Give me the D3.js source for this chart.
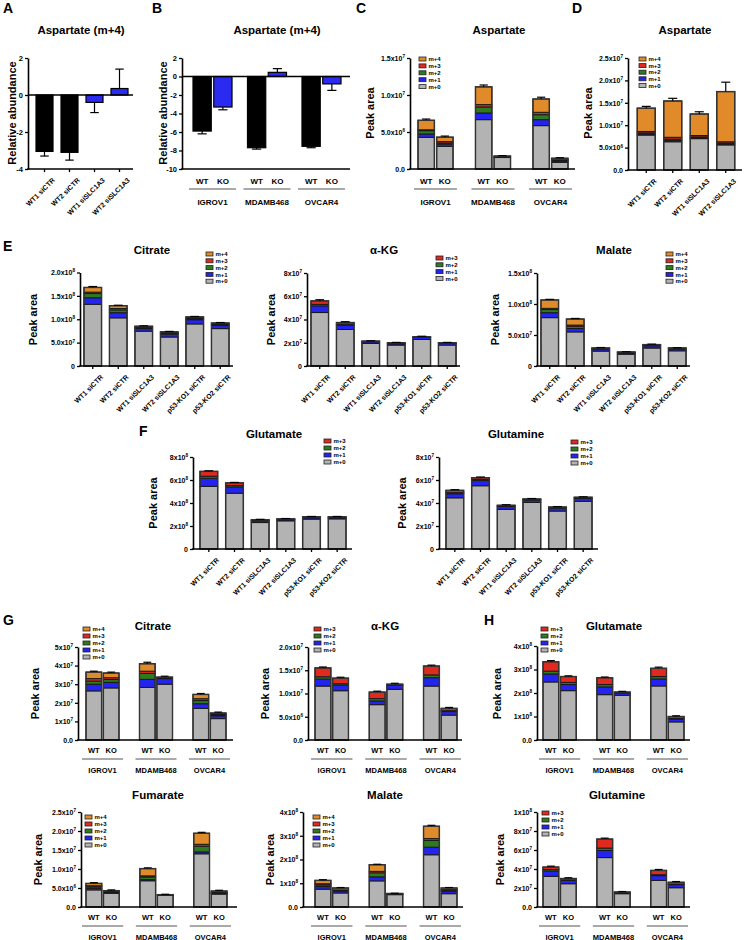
<!DOCTYPE html>
<html><head><meta charset="utf-8">
<script src="https://cdn.jsdelivr.net/npm/d3@7/dist/d3.min.js"></script>
<style>
html,body{margin:0;padding:0;background:#fff;}
text{font-family:"Liberation Sans",Arial,Helvetica,sans-serif;font-weight:bold;fill:#000;}
</style></head>
<body><svg id="fig" width="748" height="940" xmlns="http://www.w3.org/2000/svg"></svg>
<script>
// ================= DATA =================
const conds4 = ["WT1 siCTR","WT2 siCTR","WT1 siSLC1A3","WT2 siSLC1A3"];
const conds6 = ["WT1 siCTR","WT2 siCTR","WT1 siSLC1A3","WT2 siSLC1A3","p53-KO1 siCTR","p53-KO2 siCTR"];
const cellLines = ["IGROV1","MDAMB468","OVCAR4"];
const genotypes = ["WT","KO"];
const iso5 = ["m+0","m+1","m+2","m+3","m+4"];
const iso4 = ["m+0","m+1","m+2","m+3"];

// A  Aspartate (m+4), relative abundance
const aspA_mean = [-3.05,-3.1,-0.4,0.35];
const aspA_err = [0.25,0.42,0.55,1.05];
const aspA_ticks = [-4,-2,0,2];
// B  (IGROV1 WT, KO, MDAMB468 WT, KO, OVCAR4 WT, KO)
const aspB_mean = [-5.9,-3.3,-7.7,0.45,-7.55,-0.8];
const aspB_err = [0.3,0.3,0.15,0.4,0.15,0.7];
const aspB_ticks = [-10,-8,-6,-4,-2,0,2];

// C Aspartate peak area (x10^6), isotopologues m+0..m+4
const aspC_e6 = [[4.28,0.45,0.45,0.12,1.28],[3.06,0.30,0.14,0.20,0.60],[6.67,0.90,0.81,0.32,2.40],
                 [1.55,0.05,0.04,0.04,0.07],[5.86,0.81,0.67,0.32,1.80],[0.90,0.15,0.10,0.10,0.20]];
const aspC_err = [0.17,0.15,0.25,0.06,0.24,0.08];
const aspC_ticks = [0,5,10,15];
const aspC_tickLabels = ["0.0","5.0x10^6","1.0x10^7","1.5x10^7"];

// D Aspartate peak area (x10^6)
const aspD_e6 = [[7.8,0.25,0.25,0.3,5.2],[6.3,0.3,0.3,0.4,8.1],[7.0,0.2,0.2,0.3,4.8],[5.6,0.2,0.2,0.3,11.2]];
const aspD_err = [0.4,0.6,0.5,2.1];
const aspD_ticks = [0,5,10,15,20,25];
const aspD_tickLabels = ["0.0","5.0x10^6","1.0x10^7","1.5x10^7","2.0x10^7","2.5x10^7"];

// E Citrate (x10^8)
const eCit_e8 = [[1.32,0.14,0.09,0.03,0.10],[1.03,0.11,0.06,0.03,0.06],[0.745,0.055,0.02,0.01,0.02],
                 [0.62,0.06,0.02,0.01,0.02],[0.90,0.09,0.02,0.02,0.02],[0.80,0.065,0.015,0.02,0.02]];
const eCit_err = [0.02,0.01,0.01,0.01,0.01,0.01];
const eCit_ticks = [0,0.5,1,1.5,2];
const eCit_tickLabels = ["0","5.0x10^7","1.0x10^8","1.5x10^8","2.0x10^8"];
// E alpha-KG (x10^7)
const eAkg_e7 = [[4.6,0.57,0.13,0.3],[3.14,0.36,0.1,0.14],[1.94,0.14,0.03,0.03],
                 [1.8,0.11,0.04,0.05],[2.28,0.17,0.03,0.04],[1.8,0.14,0.03,0.03]];
const eAkg_err = [0.1,0.07,0.03,0.03,0.04,0.03];
const eAkg_ticks = [0,2,4,6,8];
const eAkg_tickLabels = ["0","2x10^7","4x10^7","6x10^7","8x10^7"];
// E Malate (x10^8)
const eMal_e8 = [[0.78,0.08,0.05,0.02,0.135],[0.55,0.055,0.035,0.02,0.097],[0.24,0.03,0.01,0.005,0.005],
                 [0.19,0.02,0.008,0.004,0.003],[0.29,0.035,0.01,0.005,0.005],[0.245,0.03,0.008,0.004,0.003]];
const eMal_err = [0.01,0.01,0.008,0.005,0.008,0.005];
const eMal_ticks = [0,0.5,1,1.5];
const eMal_tickLabels = ["0","5.0x10^7","1.0x10^8","1.5x10^8"];

// F Glutamate (x10^8)
const fGlu_e8 = [[5.45,0.7,0.18,0.42],[4.85,0.55,0.12,0.23],[2.3,0.15,0.04,0.06],
                 [2.45,0.1,0.03,0.04],[2.6,0.12,0.03,0.05],[2.62,0.1,0.03,0.05]];
const fGlu_err = [0.05,0.04,0.03,0.03,0.03,0.03];
const fGlu_ticks = [0,2,4,6,8];
const fGlu_tickLabels = ["0","2x10^8","4x10^8","6x10^8","8x10^8"];
// F Glutamine (x10^7)
const fGln_e7 = [[4.45,0.35,0.1,0.2],[5.5,0.45,0.1,0.15],[3.45,0.25,0.05,0.05],
                 [4.05,0.2,0.05,0.05],[3.3,0.25,0.05,0.05],[4.15,0.25,0.05,0.05]];
const fGln_err = [0.06,0.06,0.05,0.04,0.04,0.04];
const fGln_ticks = [0,2,4,6,8];
const fGln_tickLabels = ["0","2x10^7","4x10^7","6x10^7","8x10^7"];

// G Citrate (x10^7)
const gCit_e7 = [[2.64,0.36,0.17,0.13,0.35],[2.8,0.3,0.15,0.1,0.25],[2.83,0.43,0.32,0.12,0.4],
                 [3.0,0.3,0.03,0.03,0.02],[1.7,0.25,0.17,0.1,0.23],[1.15,0.15,0.05,0.05,0.05]];
const gCit_err = [0.05,0.05,0.08,0.05,0.05,0.05];
const gCit_ticks = [0,1,2,3,4,5];
const gCit_tickLabels = ["0.0","1x10^7","2x10^7","3x10^7","4x10^7","5x10^7"];
// G alpha-KG (x10^7)
const gAkg_e7 = [[1.16,0.15,0.05,0.19],[1.06,0.12,0.03,0.12],[0.76,0.08,0.05,0.14],
                 [1.09,0.09,0.01,0.01],[1.16,0.18,0.06,0.19],[0.535,0.075,0.02,0.05]];
const gAkg_err = [0.02,0.02,0.02,0.02,0.02,0.02];
const gAkg_ticks = [0,0.5,1,1.5,2];
const gAkg_tickLabels = ["0.0","5.0x10^6","1.0x10^7","1.5x10^7","2.0x10^7"];
// G Fumarate (x10^6)
const gFum_e6 = [[4.5,0.4,0.4,0.3,0.6],[3.6,0.2,0.15,0.1,0.25],[6.9,0.3,0.7,0.3,1.9],
                 [3.1,0.05,0.03,0.02,0.05],[14.0,0.5,1.5,0.5,2.9],[3.4,0.15,0.15,0.15,0.35]];
const gFum_err = [0.2,0.2,0.2,0.1,0.25,0.2];
const gFum_ticks = [0,5,10,15,20,25];
const gFum_tickLabels = ["0.0","5.0x10^6","1.0x10^7","1.5x10^7","2.0x10^7","2.5x10^7"];
// G Malate (x10^8)
const gMal_e8 = [[0.75,0.11,0.07,0.05,0.14],[0.59,0.07,0.04,0.02,0.08],[1.1,0.17,0.17,0.06,0.28],
                 [0.52,0.02,0.01,0.01,0.01],[2.2,0.32,0.28,0.08,0.52],[0.56,0.09,0.05,0.03,0.07]];
const gMal_err = [0.03,0.02,0.02,0.01,0.04,0.02];
const gMal_ticks = [0,1,2,3,4];
const gMal_tickLabels = ["0.0","1x10^8","2x10^8","3x10^8","4x10^8"];

// H Glutamate (x10^8)
const hGlu_e8 = [[2.47,0.34,0.12,0.4],[2.1,0.26,0.09,0.25],[1.93,0.33,0.1,0.29],
                 [1.9,0.1,0.02,0.02],[2.3,0.3,0.1,0.35],[0.77,0.11,0.04,0.08]];
const hGlu_err = [0.05,0.03,0.03,0.03,0.05,0.03];
const hGlu_ticks = [0,1,2,3,4];
const hGlu_tickLabels = ["0.0","1x10^8","2x10^8","3x10^8","4x10^8"];
// H Glutamine (x10^7)
const hGln_e7 = [[3.23,0.57,0.15,0.25],[2.45,0.35,0.05,0.15],[5.2,0.75,0.25,0.95],
                 [1.4,0.1,0.03,0.05],[2.8,0.5,0.1,0.45],[2.03,0.32,0.05,0.2]];
const hGln_err = [0.1,0.08,0.1,0.05,0.1,0.08];
const hGln_ticks = [0,2,4,6,8,10];
const hGln_tickLabels = ["0.0","2x10^7","4x10^7","6x10^7","8x10^7","1x10^8"];

// ================= STYLE =================
const ISO_COL = {"m+0":"#b3b3b3","m+1":"#2424f2","m+2":"#2e7a1e","m+3":"#e0291f","m+4":"#e08a2a"};
const BLUE = "#2a2af0";
const svg = d3.select("#fig");

function supify(t, s, fs){
  t.text(null);
  const p = String(s).split("^");
  t.append("tspan").text(p[0]);
  if (p.length > 1) t.append("tspan").attr("font-size", fs*0.66).attr("dy", -fs*0.4).text(p[1]);
}
function txt(g, x, y, s, fs, anchor){
  const t = g.append("text").attr("x", x).attr("y", y).attr("font-size", fs).attr("text-anchor", anchor || "middle");
  supify(t, s, fs);
  return t;
}
function ylab(g, s, x, yc){
  g.append("text").attr("transform", `translate(${x+4},${yc}) rotate(-90)`)
   .attr("text-anchor","middle").attr("font-size",11).text(s);
}
function letter(L, x, y){ svg.append("text").attr("x",x).attr("y",y).attr("font-size",14).text(L); }

function slots(cfg){
  if (cfg.grouped){
    const xo = d3.scaleBand().domain(cellLines).range(cfg.xr).paddingInner(cfg.pOut).paddingOuter(0);
    const xi = d3.scaleBand().domain(genotypes).range([0, xo.bandwidth()]).paddingInner(cfg.pIn).paddingOuter(0);
    const out = [];
    cellLines.forEach(c => genotypes.forEach(gn => out.push({x: xo(c)+xi(gn), w: xi.bandwidth(), cat: c, gen: gn, gx: xo(c), gw: xo.bandwidth()})));
    return out;
  }
  const xb = d3.scaleBand().domain(cfg.cats).range(cfg.xr).paddingInner(cfg.pad).paddingOuter(cfg.pad/2);
  const out = cfg.cats.map(c => ({x: xb(c), w: xb.bandwidth(), cat: c}));
  out.xb = xb;
  return out;
}

function yAxis(g, y, cfg){
  const fs = cfg.tfs || 7;
  const ax = d3.axisLeft(y).tickValues(cfg.ticks).tickSize(3).tickSizeOuter(0).tickPadding(2)
      .tickFormat((d,i) => cfg.tickLabels[i]);
  const ga = g.append("g").attr("transform", `translate(${cfg.ax},0)`).call(ax);
  ga.attr("font-family", null).attr("font-size", null);
  ga.select(".domain").attr("stroke","#000").attr("stroke-width",1.6);
  ga.selectAll(".tick line").attr("stroke","#000").attr("stroke-width",1.3);
  ga.selectAll(".tick text").attr("font-size", fs).each(function(d,i){ supify(d3.select(this), cfg.tickLabels[i], fs); });
}

function xDecor(g, cfg, bars){
  g.append("line").attr("x1",cfg.ax-0.8).attr("x2",cfg.axEnd).attr("y1",cfg.yBot).attr("y2",cfg.yBot)
   .attr("stroke","#000").attr("stroke-width",1.6);
  if (cfg.grouped){
    const L = cfg.gl;
    bars.forEach(b => txt(g, b.x + b.w/2, cfg.yBot + L[0], b.gen, L[3]));
    cellLines.forEach(c => {
      const b = bars.find(d => d.cat === c);
      g.append("line").attr("x1", b.gx-4).attr("x2", b.gx+b.gw+4)
       .attr("y1", cfg.yBot+L[1]).attr("y2", cfg.yBot+L[1]).attr("stroke","#555").attr("stroke-width",1.1);
      txt(g, b.gx + b.gw/2, cfg.yBot + L[2], c, L[3]);
    });
  } else {
    const ga = g.append("g").attr("transform", `translate(0,${cfg.yBot})`)
      .call(d3.axisBottom(bars.xb).tickSize(3).tickSizeOuter(0));
    ga.attr("font-family", null).attr("font-size", null);
    ga.select(".domain").remove();
    ga.selectAll(".tick line").attr("stroke","#000").attr("stroke-width",1.3);
    ga.selectAll(".tick text").attr("y",0).attr("dy","0.35em").attr("text-anchor","end")
      .attr("font-size",7).attr("transform","translate(9,10) rotate(-45)");
  }
}

function decorate(g, cfg){
  if (cfg.letter) letter(cfg.letter[0], cfg.letter[1], cfg.letter[2]);
  txt(g, cfg.title[1], cfg.title[2], cfg.title[0], 11.5);
  ylab(g, cfg.ylab[0], cfg.ylab[1], cfg.ylab[2]);
}

function simpleBars(cfg){
  const g = svg.append("g");
  const y = d3.scaleLinear().domain(cfg.ydom).range([cfg.yBot, cfg.yTop]);
  const bars = slots(cfg);
  g.selectAll(null).data(cfg.means).join("rect")
    .attr("x", (d,i) => bars[i].x).attr("width", (d,i) => bars[i].w)
    .attr("y", d => Math.min(y(0), y(d))).attr("height", d => Math.abs(y(d) - y(0)))
    .attr("fill", (d,i) => cfg.colorOf(bars[i])).attr("stroke","#000").attr("stroke-width",1.2);
  cfg.means.forEach((m,i) => {
    const b = bars[i], cx = b.x + b.w/2, e = m + Math.sign(m)*cfg.errs[i];
    g.append("line").attr("x1",cx).attr("x2",cx).attr("y1",y(m)).attr("y2",y(e)).attr("stroke","#000").attr("stroke-width",1.2);
    g.append("line").attr("x1",cx-b.w*0.25).attr("x2",cx+b.w*0.25).attr("y1",y(e)).attr("y2",y(e)).attr("stroke","#000").attr("stroke-width",1.2);
  });
  g.append("line").attr("x1",cfg.ax).attr("x2",cfg.axEnd).attr("y1",y(0)).attr("y2",y(0)).attr("stroke","#000").attr("stroke-width",1.6);
  yAxis(g, y, cfg);
  xDecor(g, cfg, bars);
  decorate(g, cfg);
}

function stacked(cfg){
  const g = svg.append("g");
  const y = d3.scaleLinear().domain([0, cfg.ymax]).range([cfg.yBot, cfg.yTop]);
  const bars = slots(cfg);
  const keys = cfg.keys;
  const table = cfg.rows.map((r,i) => { const o = {i}; keys.forEach((k,j) => o[k] = r[j]); return o; });
  const series = d3.stack().keys(keys)(table);
  series.forEach(s => {
    g.selectAll(null).data(s).join("rect")
      .attr("x", (d,i) => bars[i].x).attr("width", (d,i) => bars[i].w)
      .attr("y", d => y(d[1])).attr("height", d => Math.max(0, y(d[0]) - y(d[1])))
      .attr("fill", ISO_COL[s.key]).attr("stroke","#1a1a1a").attr("stroke-width",1);
  });
  const top = series[series.length-1];
  top.forEach((d,i) => {
    const b = bars[i], cx = b.x + b.w/2, e = d[1] + cfg.err[i];
    g.append("rect").attr("x",b.x).attr("width",b.w).attr("y",y(d[1])).attr("height",y(0)-y(d[1]))
      .attr("fill","none").attr("stroke","#333").attr("stroke-width",1.4);
    g.append("line").attr("x1",cx).attr("x2",cx).attr("y1",y(d[1])).attr("y2",y(e)).attr("stroke","#000").attr("stroke-width",1.2);
    g.append("line").attr("x1",cx-b.w*0.25).attr("x2",cx+b.w*0.25).attr("y1",y(e)).attr("y2",y(e)).attr("stroke","#000").attr("stroke-width",1.2);
  });
  // legend
  const lk = keys.slice().reverse();
  lk.forEach((k,i) => {
    const yy = cfg.leg[1] + i*cfg.leg[2];
    g.append("rect").attr("x",cfg.leg[0]).attr("y",yy-2).attr("width",7).attr("height",4)
      .attr("fill",ISO_COL[k]).attr("stroke","#222").attr("stroke-width",0.8);
    txt(g, cfg.leg[0]+9.5, yy+2.2, k, 6, "start");
  });
  yAxis(g, y, cfg);
  xDecor(g, cfg, bars);
  decorate(g, cfg);
}

// ================= PANELS =================
simpleBars({letter:["A",3,13], title:["Aspartate (m+4)",81,34], ylab:["Relative abundance",12,113],
  ax:28, axEnd:133, yBot:169, yTop:58, ydom:[-4,2], ticks:aspA_ticks, tickLabels:aspA_ticks.map(String), tfs:7.5,
  cats:conds4, xr:[32,132], pad:0.32, means:aspA_mean, errs:aspA_err,
  colorOf:b => b.cat.includes("SLC1A3") ? BLUE : "#000"});

simpleBars({letter:["B",152,13], title:["Aspartate (m+4)",277,34], ylab:["Relative abundance",163,113],
  ax:182, axEnd:350, yBot:169, yTop:58, ydom:[-10,2], ticks:aspB_ticks, tickLabels:aspB_ticks.map(String), tfs:7.5,
  grouped:true, xr:[193,341], pOut:0.284, pIn:0.12, gl:[15,20,36,8], means:aspB_mean, errs:aspB_err,
  colorOf:b => b.gen === "KO" ? BLUE : "#000"});

stacked({letter:["C",356,13], title:["Aspartate",499,34], ylab:["Peak area",370,113],
  ax:410, axEnd:575, yBot:169, yTop:58, ymax:15, ticks:aspC_ticks, tickLabels:aspC_tickLabels,
  grouped:true, xr:[418,568], pOut:0.39, pIn:0.12, gl:[15,20,36,8],
  keys:iso5, rows:aspC_e6, err:aspC_err, leg:[419,59,6.9]});

stacked({letter:["D",572,13], title:["Aspartate",685,34], ylab:["Peak area",588,113],
  ax:628, axEnd:742, yBot:170, yTop:58, ymax:25, ticks:aspD_ticks, tickLabels:aspD_tickLabels,
  cats:conds4, xr:[633,739], pad:0.32,
  keys:iso5, rows:aspD_e6, err:aspD_err, leg:[639,59,6.6]});

stacked({letter:["E",3,251], title:["Citrate",152,254], ylab:["Peak area",33,319.5],
  ax:80, axEnd:233, yBot:366, yTop:272.5, ymax:2, ticks:eCit_ticks, tickLabels:eCit_tickLabels,
  cats:conds6, xr:[80,233], pad:0.31,
  keys:iso5, rows:eCit_e8, err:eCit_err, leg:[206,254,6.8]});

stacked({title:["\u03b1-KG",384,254], ylab:["Peak area",271,319.5],
  ax:307, axEnd:460, yBot:366, yTop:273, ymax:8, ticks:eAkg_ticks, tickLabels:eAkg_tickLabels,
  cats:conds6, xr:[307,460], pad:0.31,
  keys:iso4, rows:eAkg_e7, err:eAkg_err, leg:[436,258,6.8]});

stacked({title:["Malate",614,254], ylab:["Peak area",495,319.5],
  ax:537, axEnd:690, yBot:366, yTop:273, ymax:1.5, ticks:eMal_ticks, tickLabels:eMal_tickLabels,
  cats:conds6, xr:[537,690], pad:0.31,
  keys:iso5, rows:eMal_e8, err:eMal_err, leg:[666,254,6.8]});

stacked({letter:["F",139,436], title:["Glutamate",274,438], ylab:["Peak area",153,503],
  ax:193, axEnd:352, yBot:549, yTop:457, ymax:8, ticks:fGlu_ticks, tickLabels:fGlu_tickLabels,
  cats:conds6, xr:[196,350], pad:0.31,
  keys:iso4, rows:fGlu_e8, err:fGlu_err, leg:[324,441,7]});

stacked({title:["Glutamine",516,438], ylab:["Peak area",402,503],
  ax:439, axEnd:598, yBot:549, yTop:457, ymax:8, ticks:fGln_ticks, tickLabels:fGln_tickLabels,
  cats:conds6, xr:[442,596], pad:0.31,
  keys:iso4, rows:fGln_e7, err:fGln_err, leg:[571,442,7]});

stacked({letter:["G",3,625], title:["Citrate",153,630], ylab:["Peak area",35,693.5],
  ax:78, axEnd:233, yBot:740, yTop:647, ymax:5, ticks:gCit_ticks, tickLabels:gCit_tickLabels,
  grouped:true, xr:[86,226], pOut:0.383, pIn:0.1, gl:[12.5,19,32.5,7.5],
  keys:iso5, rows:gCit_e7, err:gCit_err, leg:[83,629,7]});

stacked({title:["\u03b1-KG",385,630], ylab:["Peak area",265,693.5],
  ax:308, axEnd:462, yBot:740, yTop:647, ymax:2, ticks:gAkg_ticks, tickLabels:gAkg_tickLabels,
  grouped:true, xr:[315,457], pOut:0.383, pIn:0.1, gl:[12.5,19,32.5,7.5],
  keys:iso4, rows:gAkg_e7, err:gAkg_err, leg:[314,629,7]});

stacked({title:["Fumarate",158,799], ylab:["Peak area",38,859.5],
  ax:81, axEnd:237, yBot:907, yTop:812, ymax:25, ticks:gFum_ticks, tickLabels:gFum_tickLabels,
  grouped:true, xr:[86,227], pOut:0.383, pIn:0.1, gl:[12.5,19,32.5,7.5],
  keys:iso5, rows:gFum_e6, err:gFum_err, leg:[85,817,7]});

stacked({title:["Malate",385,799], ylab:["Peak area",270,859.5],
  ax:303, axEnd:463, yBot:907, yTop:812, ymax:4, ticks:gMal_ticks, tickLabels:gMal_tickLabels,
  grouped:true, xr:[315,457], pOut:0.383, pIn:0.1, gl:[12.5,19,32.5,7.5],
  keys:iso5, rows:gMal_e8, err:gMal_err, leg:[313,817,7]});

stacked({letter:["H",484,625], title:["Glutamate",614,630], ylab:["Peak area",497,693.5],
  ax:537, axEnd:690, yBot:740, yTop:646, ymax:4, ticks:hGlu_ticks, tickLabels:hGlu_tickLabels,
  grouped:true, xr:[543,684], pOut:0.383, pIn:0.1, gl:[12.5,19,32.5,7.5],
  keys:iso4, rows:hGlu_e8, err:hGlu_err, leg:[541,629,7]});

stacked({title:["Glutamine",617,799], ylab:["Peak area",500,859.5],
  ax:537, axEnd:690, yBot:907, yTop:812, ymax:10, ticks:hGln_ticks, tickLabels:hGln_tickLabels,
  grouped:true, xr:[543,684], pOut:0.383, pIn:0.1, gl:[12.5,19,32.5,7.5],
  keys:iso4, rows:hGln_e7, err:hGln_err, leg:[542,813,7]});
</script></body></html>
